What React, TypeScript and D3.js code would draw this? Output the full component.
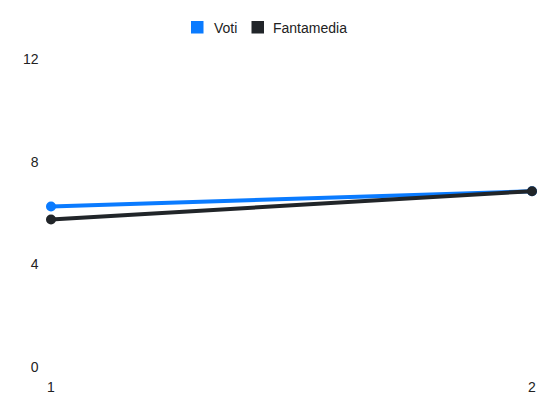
import React from "react";
import * as d3 from "d3";

const categories = [1, 2];
const voti = [6.25, 6.85];
const fantamedia = [5.75, 6.85];
const yTicks = [0, 4, 8, 12];

const W = 550;
const H = 412;

export default function App() {
  const x = d3.scaleLinear().domain([1, 2]).range([51, 532]);
  const y = d3.scaleLinear().domain([0, 12]).range([367, 59]);
  const line = d3
    .line<number>()
    .x((_, i) => x(categories[i]))
    .y((d) => y(d));
  const series = [
    { name: "Voti", values: voti, color: "#0a7bff" },
    { name: "Fantamedia", values: fantamedia, color: "#212529" },
  ];
  const font = "'Liberation Sans', Arial, sans-serif";
  return (
    <svg
      width={W}
      height={H}
      style={{ position: "absolute", left: 0, top: 0, display: "block", fontFamily: font }}
    >
      <rect width={W} height={H} fill="#fff" />
      {yTicks.map((t) => (
        <text key={t} x={38.5} y={y(t)} textAnchor="end" dominantBaseline="central" fontSize={14} fill="#222">
          {t}
        </text>
      ))}
      {categories.map((c) => (
        <text key={c} x={x(c)} y={387} textAnchor="middle" dominantBaseline="central" fontSize={14} fill="#222">
          {c}
        </text>
      ))}
      {series.map((s) => (
        <g key={s.name}>
          <path d={line(s.values) || ""} fill="none" stroke={s.color} strokeWidth={4} />
          {s.values.map((v, i) => (
            <circle key={i} cx={x(categories[i])} cy={y(v)} r={5} fill={s.color} />
          ))}
        </g>
      ))}
      <g>
        <rect x={191} y={21} width={12.5} height={12.5} fill="#0a7bff" />
        <text x={214} y={27.5} dominantBaseline="central" fontSize={14} fill="#222">Voti</text>
        <rect x={251.5} y={21} width={12.5} height={12.5} fill="#212529" />
        <text x={273} y={27.5} dominantBaseline="central" fontSize={14} fill="#222">Fantamedia</text>
      </g>
    </svg>
  );
}
